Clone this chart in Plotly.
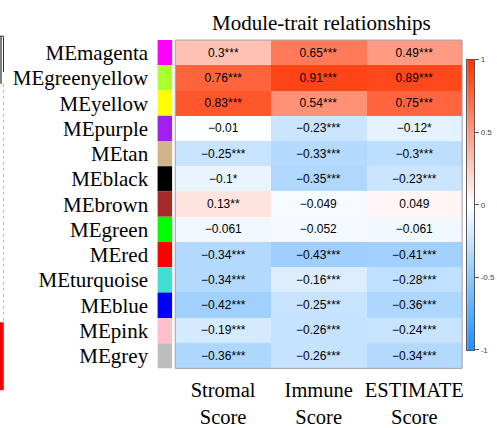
import numpy as np
import plotly.graph_objects as go

# Module eigengenes (rows) and traits (columns)
modules = ["MEmagenta", "MEgreenyellow", "MEyellow", "MEpurple", "MEtan", "MEblack",
           "MEbrown", "MEgreen", "MEred", "MEturquoise", "MEblue", "MEpink", "MEgrey"]
module_colors = ["#FF00FF", "#ADFF2F", "#FFFF00", "#A020F0", "#D2B48C", "#000000",
                 "#A52A2A", "#00FF00", "#FF0000", "#40E0D0", "#0000FF", "#FFC0CB", "#BEBEBE"]
traits = ["Stromal<br>Score", "Immune<br>Score", "ESTIMATE<br>Score"]

stromal = [0.3, 0.76, 0.83, -0.01, -0.25, -0.1, 0.13, -0.061, -0.34, -0.34, -0.42, -0.19, -0.36]
immune = [0.65, 0.91, 0.54, -0.23, -0.33, -0.35, -0.049, -0.052, -0.43, -0.16, -0.25, -0.26, -0.26]
estimate = [0.49, 0.89, 0.75, -0.12, -0.3, -0.23, 0.049, -0.061, -0.41, -0.28, -0.36, -0.24, -0.34]

stromal_sig = ["***", "***", "***", "", "***", "*", "**", "", "***", "***", "***", "***", "***"]
immune_sig = ["***", "***", "***", "***", "***", "***", "", "", "***", "***", "***", "***", "***"]
estimate_sig = ["***", "***", "***", "*", "***", "***", "", "", "***", "***", "***", "***", "***"]

cbar_ticks = [-1, -0.5, 0, 0.5, 1]
cbar_ticktext = ["-1", "-0.5", "0", "0.5", "1"]

W, H = 497, 428
colorscale = [[0.0, "#1E90FF"], [0.5, "#FFFFFF"], [1.0, "#FF3300"]]

z = np.array([stromal, immune, estimate]).T
sig = np.array([stromal_sig, immune_sig, estimate_sig]).T
text = [[f"{z[i, j]:g}".replace("-", "\u2212") + sig[i, j] for j in range(3)]
        for i in range(len(modules))]


def px_x(p):
    return p / W


def px_y(p):
    return 1 - p / H


fig = go.Figure()

# main correlation heatmap
fig.add_trace(go.Heatmap(
    z=z, x=traits, y=modules, text=text, texttemplate="%{text}",
    textfont=dict(family="Liberation Sans, Arial", size=12, color="black"),
    colorscale=colorscale, zmin=-1, zmax=1, showscale=False,
    xaxis="x", yaxis="y", hoverinfo="skip",
))

# module colour strip
fig.add_trace(go.Bar(
    x=[1] * len(modules), y=modules, orientation="h", width=1,
    marker=dict(color=module_colors, line=dict(width=0)),
    xaxis="x2", yaxis="y", showlegend=False, hoverinfo="skip",
))

# colour key
key_vals = np.linspace(-1, 1, 201)
fig.add_trace(go.Heatmap(
    z=key_vals.reshape(-1, 1), x=[0], y=key_vals,
    colorscale=colorscale, zmin=-1, zmax=1, showscale=False,
    xaxis="x3", yaxis="y3", hoverinfo="skip",
))

serif = "Liberation Serif, Times New Roman, serif"

fig.update_layout(
    width=W, height=H,
    margin=dict(l=0, r=0, t=0, b=0),
    paper_bgcolor="white", plot_bgcolor="white",
    showlegend=False,
    xaxis=dict(domain=[px_x(176), px_x(464)], anchor="y", side="bottom",
               showgrid=False, zeroline=False, showline=False,
               ticks="outside", ticklen=3, tickcolor="rgba(0,0,0,0)",
               tickfont=dict(family=serif, size=20.5, color="black")),
    yaxis=dict(domain=[px_y(374), px_y(37)], anchor="x2", autorange="reversed",
               showgrid=False, zeroline=False, showline=False,
               ticks="outside", ticklen=4, tickcolor="rgba(0,0,0,0)",
               tickfont=dict(family=serif, size=21, color="black")),
    xaxis2=dict(domain=[px_x(158), px_x(173)], anchor="y", range=[0, 1],
                showgrid=False, zeroline=False, showline=False,
                showticklabels=False, ticks=""),
    xaxis3=dict(domain=[px_x(469), px_x(476)], anchor="y3", range=[-0.5, 0.5],
                showgrid=False, zeroline=False, showline=True, mirror=True,
                linecolor="#555555", linewidth=1, showticklabels=False, ticks=""),
    yaxis3=dict(domain=[px_y(355), px_y(57)], anchor="x3", side="right",
                range=[-1, 1], showgrid=False, zeroline=False,
                showline=True, mirror=True, linecolor="#555555", linewidth=1,
                tickvals=cbar_ticks, ticktext=cbar_ticktext,
                ticks="outside", ticklen=4, tickcolor="#555555", tickwidth=1,
                tickfont=dict(family="Liberation Sans, Arial", size=8, color="#444444")),
    annotations=[dict(
        text="Module-trait relationships", x=px_x(323), y=px_y(20),
        xref="paper", yref="paper", xanchor="center", yanchor="middle",
        showarrow=False, font=dict(family=serif, size=21, color="black"),
    )],
    shapes=[
        # frame around the heatmap
        dict(type="rect", xref="x domain", yref="y domain", x0=0, x1=1, y0=0, y1=1,
             line=dict(color="#A0A0AA", width=1), fillcolor="rgba(0,0,0,0)"),
        # pieces of the neighbouring dendrogram panel
        dict(type="line", xref="paper", yref="paper", x0=px_x(1), x1=px_x(1),
             y0=px_y(33), y1=px_y(82), line=dict(color="black", width=1)),
        dict(type="line", xref="paper", yref="paper", x0=px_x(0), x1=px_x(3.5),
             y0=px_y(33), y1=px_y(33), line=dict(color="#333333", width=1)),
        dict(type="line", xref="paper", yref="paper", x0=px_x(3.5), x1=px_x(3.5),
             y0=px_y(33), y1=px_y(70), line=dict(color="#333333", width=1)),
        dict(type="line", xref="paper", yref="paper", x0=px_x(3.5), x1=px_x(3.5),
             y0=px_y(82), y1=px_y(326), line=dict(color="#BBBBBB", width=1, dash="dot")),
        dict(type="rect", xref="paper", yref="paper", x0=px_x(0), x1=px_x(3.5),
             y0=px_y(396), y1=px_y(327), fillcolor="#FF0000",
             line=dict(color="#AA0000", width=0.5)),
    ],
)

fig.write_html("out.html")
